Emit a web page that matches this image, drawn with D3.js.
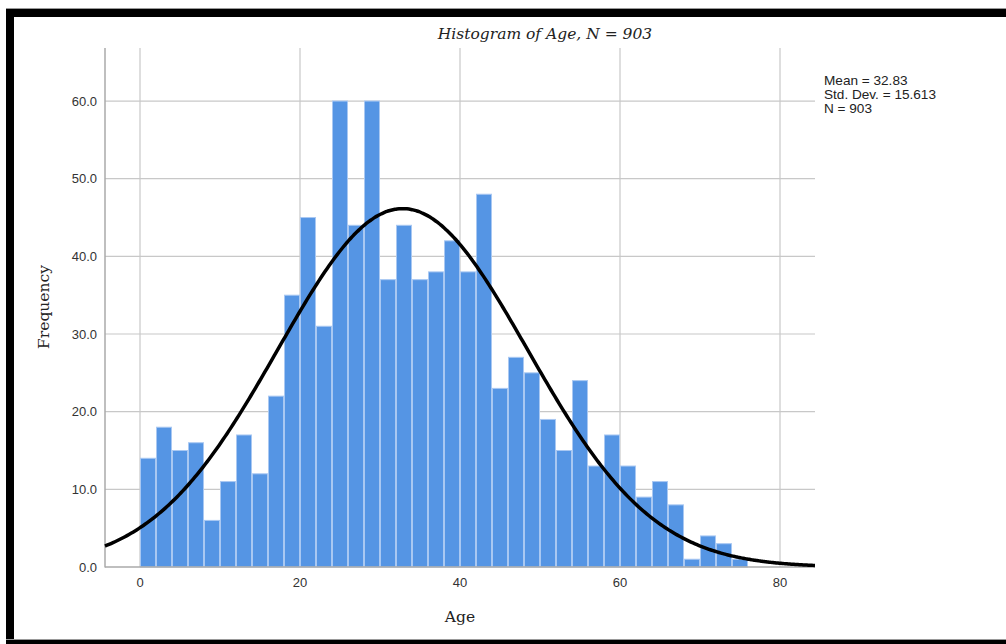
<!DOCTYPE html>
<html>
<head>
<meta charset="utf-8">
<script src="https://cdn.jsdelivr.net/npm/d3@7"></script>
<style>
    body { margin: 0; background: #fff; }
    svg { display: block; }
</style>
</head>
<body>
<script>
// histogram bins of Age, width 2 years, starting at 0
var binStarts = [0, 2, 4, 6, 8, 10, 12, 14, 16, 18, 20, 22, 24, 26, 28, 30, 32, 34, 36, 38,
    40, 42, 44, 46, 48, 50, 52, 54, 56, 58, 60, 62, 64, 66, 68, 70, 72, 74];
var binCounts = [14, 18, 15, 16, 6, 11, 17, 12, 22, 35, 45, 31, 60, 44, 60, 37, 44, 37, 38, 42,
    38, 48, 23, 27, 25, 19, 15, 24, 13, 17, 13, 9, 11, 8, 1, 4, 3, 1];
var binWidth = 2;
var xTicks = [0, 20, 40, 60, 80];
var yTicks = [0, 10, 20, 30, 40, 50, 60];
var statLines = ["Mean = 32.83", "Std. Dev. = 15.613", "N = 903"];
var mean = 32.83, stdDev = 15.613, total = 903;

function drawHistogram () {
    var width = 1006,
        height = 644;

    var svg = d3.select("body").append("svg")
        .attr("width", width)
        .attr("height", height);

    // black frame around the output
    svg.append("rect").attr("x", 6).attr("y", 8).attr("width", width - 6).attr("height", 1).style("fill", "#999");
    svg.append("rect").attr("x", 6).attr("y", 9).attr("width", width - 6).attr("height", 8).style("fill", "#000");
    svg.append("rect").attr("x", 6).attr("y", 9).attr("width", 8).attr("height", height - 9).style("fill", "#000");
    svg.append("rect").attr("x", 6).attr("y", 639).attr("width", width - 6).attr("height", 1).style("fill", "#999");
    svg.append("rect").attr("x", 6).attr("y", 640).attr("width", width - 6).attr("height", 4).style("fill", "#000");

    var x = d3.scaleLinear().domain([-4.375, 84.375]).range([105, 815]);
    var y = d3.scaleLinear().domain([0, 66.83]).range([567, 48]);

    // grid
    svg.append("g").selectAll("line")
        .data(yTicks.slice(1))
        .enter().append("line")
        .attr("x1", x.range()[0]).attr("x2", x.range()[1])
        .attr("y1", function(d) { return y(d); }).attr("y2", function(d) { return y(d); })
        .style("stroke", "#c8c8c8").style("stroke-width", 1.2);
    svg.append("g").selectAll("line")
        .data(xTicks)
        .enter().append("line")
        .attr("x1", function(d) { return x(d); }).attr("x2", function(d) { return x(d); })
        .attr("y1", y.range()[1]).attr("y2", y.range()[0])
        .style("stroke", "#c8c8c8").style("stroke-width", 1.2);

    // bars
    svg.append("g").selectAll("rect")
        .data(binStarts)
        .enter().append("rect")
        .attr("x", function(d) { return x(d) + 0.5; })
        .attr("y", function(d, i) { return y(binCounts[i]); })
        .attr("width", function(d) { return x(d + binWidth) - x(d) - 1; })
        .attr("height", function(d, i) { return y(0) - y(binCounts[i]); })
        .style("fill", "#5595e4")
        .style("stroke", "#a9c8f2")
        .style("stroke-width", 1);

    // axis lines
    svg.append("line")
        .attr("x1", x.range()[0]).attr("x2", x.range()[0])
        .attr("y1", y.range()[1]).attr("y2", y.range()[0] + 0.5)
        .style("stroke", "#aaa").style("stroke-width", 1.5);
    svg.append("line")
        .attr("x1", x.range()[0]).attr("x2", x.range()[1])
        .attr("y1", y.range()[0]).attr("y2", y.range()[0])
        .style("stroke", "#aaa").style("stroke-width", 1.5);

    // normal curve from the reported mean / sd
    var curveX = d3.range(x.domain()[0], x.domain()[1] + 0.01, 0.25);
    var normal = d3.line()
        .x(function(d) { return x(d); })
        .y(function(d) {
            var z = (d - mean) / stdDev;
            return y(total * binWidth / (stdDev * Math.sqrt(2 * Math.PI)) * Math.exp(-0.5 * z * z));
        })
        .curve(d3.curveBasis);
    svg.append("path")
        .datum(curveX)
        .attr("d", normal)
        .style("fill", "none")
        .style("stroke", "#000")
        .style("stroke-width", 3.5);

    // tick labels
    svg.append("g").selectAll("text")
        .data(yTicks)
        .enter().append("text")
        .attr("x", 97)
        .attr("y", function(d) { return y(d); })
        .attr("dy", "0.35em")
        .attr("text-anchor", "end")
        .style("font", "13px 'Liberation Sans', Arial, sans-serif")
        .style("fill", "#333")
        .text(function(d) { return d3.format(".1f")(d); });
    svg.append("g").selectAll("text")
        .data(xTicks)
        .enter().append("text")
        .attr("x", function(d) { return x(d); })
        .attr("y", 587)
        .attr("text-anchor", "middle")
        .style("font", "13px 'Liberation Sans', Arial, sans-serif")
        .style("fill", "#333")
        .text(function(d) { return d; });

    // titles
    svg.append("text")
        .attr("x", 545).attr("y", 39)
        .attr("text-anchor", "middle")
        .style("font", "italic 15.5px 'DejaVu Serif', serif")
        .style("fill", "#222")
        .text("Histogram of Age, N = 903");
    svg.append("text")
        .attr("x", 460).attr("y", 622)
        .attr("text-anchor", "middle")
        .style("font", "15.5px 'DejaVu Serif', serif")
        .style("fill", "#222")
        .text("Age");
    svg.append("text")
        .attr("transform", "translate(49, 307) rotate(-90)")
        .attr("text-anchor", "middle")
        .style("font", "15.5px 'DejaVu Serif', serif")
        .style("fill", "#222")
        .text("Frequency");

    // stats box
    svg.append("g").selectAll("text")
        .data(statLines)
        .enter().append("text")
        .attr("x", 824)
        .attr("y", function(d, i) { return 85 + i * 14; })
        .style("font", "13.6px 'Liberation Sans', Arial, sans-serif")
        .style("fill", "#222")
        .text(function(d) { return d; });
}

drawHistogram();
</script>
</body>
</html>
